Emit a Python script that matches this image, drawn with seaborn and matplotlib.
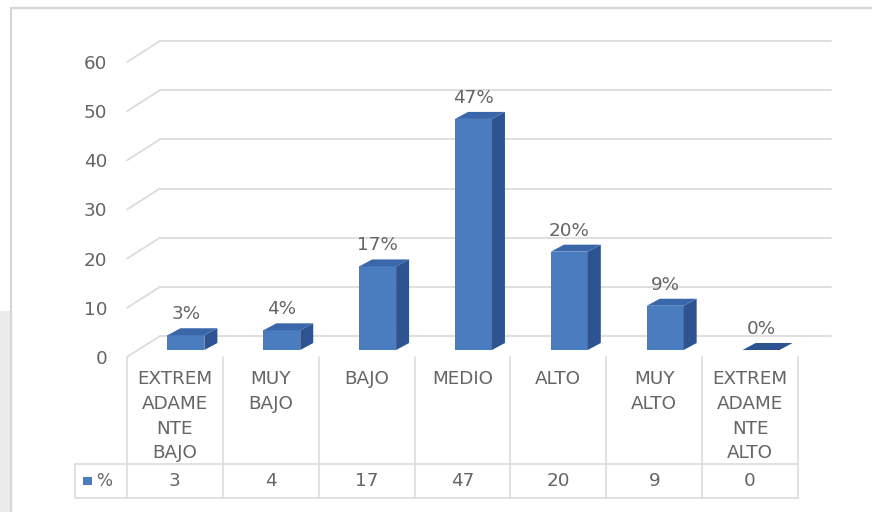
import matplotlib
matplotlib.use("Agg")
import numpy as np
import pandas as pd
import seaborn as sns
import matplotlib.pyplot as plt
from matplotlib.patches import Polygon, Rectangle
from matplotlib.lines import Line2D
from matplotlib.transforms import ScaledTranslation, IdentityTransform, blended_transform_factory

# ---- data -------------------------------------------------------------
categories = [
    "EXTREM\nADAME\nNTE\nBAJO",
    "MUY\nBAJO",
    "BAJO",
    "MEDIO",
    "ALTO",
    "MUY\nALTO",
    "EXTREM\nADAME\nNTE\nALTO",
]
values = [3, 4, 17, 47, 20, 9, 0]
series_name = "%"
y_ticks = [0, 10, 20, 30, 40, 50, 60]

# ---- style ------------------------------------------------------------
sns.set_theme(style="white")
plt.rcParams["font.family"] = ["DejaVu Sans"]

FRONT = "#4a7cc0"
SIDE = "#2d5490"
TOP = "#3a67aa"
GRID = "#dcdcdc"
TEXT = "#656565"
FS = 13.2

W, H, DPI = 872, 512, 100
fig = plt.figure(figsize=(W / DPI, H / DPI), dpi=DPI)
fig.patch.set_facecolor("white")


def fx(px):
    return px / W


def fy(py):
    return 1 - py / H


# page strip on the left and the chart frame
fig.patches.append(Rectangle((0, 0), fx(10), fy(311), transform=fig.transFigure,
                             facecolor="#ececec", edgecolor="none", zorder=-2))
fig.patches.append(Rectangle((fx(11), -0.2), 1.5, fy(8) + 0.2, transform=fig.transFigure,
                             facecolor="white", edgecolor="#d6d6d6", lw=1.6, zorder=-1))

# front plane of the 3-D box
ax = fig.add_axes([fx(127), fy(357), (798 - 127) / W, (357 - 62) / H])
ax.set_zorder(2)
ax.patch.set_alpha(0)

df = pd.DataFrame({"categoria": categories, "valor": values})
sns.barplot(data=df, x="categoria", y="valor", order=categories, color=FRONT,
            saturation=1, width=0.385, errorbar=None, ax=ax, zorder=3)
ax.set_xlim(-0.5, len(categories) - 0.5)
ax.set_ylim(y_ticks[0], y_ticks[-1])
ax.set_yticks(y_ticks)
ax.set_xlabel("")
ax.set_ylabel("")
for s in ax.spines.values():
    s.set_visible(False)
ax.grid(False)
ax.tick_params(axis="y", length=0, pad=14.0, labelsize=FS, labelcolor=TEXT)
ax.tick_params(axis="x", length=0, pad=9.5, labelsize=FS, labelcolor=TEXT)
for t in ax.get_xticklabels():
    t.set_linespacing(1.48)

# depth offsets (pixels): bars sit a little behind the front plane,
# the back wall sits further behind
BAR_OFF = (11, 7)
BAR_DEPTH = (13, 7)
WALL_OFF = (33, 21)


def shift(dx, dy):
    return ScaledTranslation(dx / DPI, dy / DPI, fig.dpi_scale_trans)


# back-wall gridlines and the slanted lines on the side wall
for v in y_ticks:
    ax.plot([-0.5, len(categories) - 0.5], [v, v], color=GRID, lw=1.3,
            transform=ax.transData + shift(*WALL_OFF), clip_on=False, zorder=0.5)
    (px0, py0), = ax.transData.transform([(-0.5, v)])
    ax.add_line(Line2D([px0, px0 + WALL_OFF[0]], [py0, py0 + WALL_OFF[1]],
                       color=GRID, lw=1.3, transform=IdentityTransform(),
                       clip_on=False, zorder=0.5))

# bars: front faces from seaborn, side and top faces from their geometry
bars = list(ax.patches)
for p, val in zip(bars, values):
    p.set_transform(ax.transData + shift(*BAR_OFF))
    p.set_edgecolor("none")
    x0 = p.get_x()
    x1 = x0 + p.get_width()
    h = p.get_height()
    (a0, b0), (a1, b1) = ax.transData.transform([(x0, 0), (x1, h)])
    a0 += BAR_OFF[0]
    a1 += BAR_OFF[0]
    b0 += BAR_OFF[1]
    b1 += BAR_OFF[1]
    dx, dy = BAR_DEPTH
    side = Polygon([(a1, b0), (a1, b1), (a1 + dx, b1 + dy), (a1 + dx, b0 + dy)],
                   closed=True, facecolor=SIDE, edgecolor="none",
                   transform=IdentityTransform(), clip_on=False, zorder=3)
    top = Polygon([(a0, b1), (a1, b1), (a1 + dx, b1 + dy), (a0 + dx, b1 + dy)],
                  closed=True, facecolor=TOP if h > 0 else SIDE, edgecolor="none",
                  transform=IdentityTransform(), clip_on=False, zorder=3)
    ax.add_patch(side)
    ax.add_patch(top)
    ax.annotate(f"{val}%", xy=(p.get_x() + p.get_width() / 2, h),
                xytext=(BAR_OFF[0], BAR_OFF[1] + 21), textcoords="offset pixels",
                ha="center", va="center", fontsize=FS, color=TEXT, zorder=4)

# data table under the chart
bt = blended_transform_factory(ax.transData, fig.transFigure)
col_px = (798 - 127) / len(categories)
leg_x = -0.5 - (127 - 75) / col_px
n = len(categories)
for i in range(n + 1):
    ax.add_line(Line2D([i - 0.5, i - 0.5], [fy(357), fy(498)], color=GRID, lw=1.2,
                       transform=bt, clip_on=False))
for yy in (464, 498):
    ax.add_line(Line2D([leg_x, n - 0.5], [fy(yy), fy(yy)], color=GRID, lw=1.2,
                       transform=bt, clip_on=False))
ax.add_line(Line2D([leg_x, leg_x], [fy(464), fy(498)], color=GRID, lw=1.2,
                   transform=bt, clip_on=False))
for i, val in enumerate(values):
    ax.text(i, fy(481), str(val), transform=bt, ha="center", va="center",
            fontsize=FS, color=TEXT)

# legend key inside the table
fig.patches.append(Rectangle((fx(83), fy(485)), 9 / W, 8 / H, transform=fig.transFigure,
                             facecolor=FRONT, edgecolor="none", zorder=5))
fig.text(fx(96), fy(481), series_name, ha="left", va="center", fontsize=FS - 1,
         color=TEXT)

fig.savefig("out.png", dpi=DPI)
